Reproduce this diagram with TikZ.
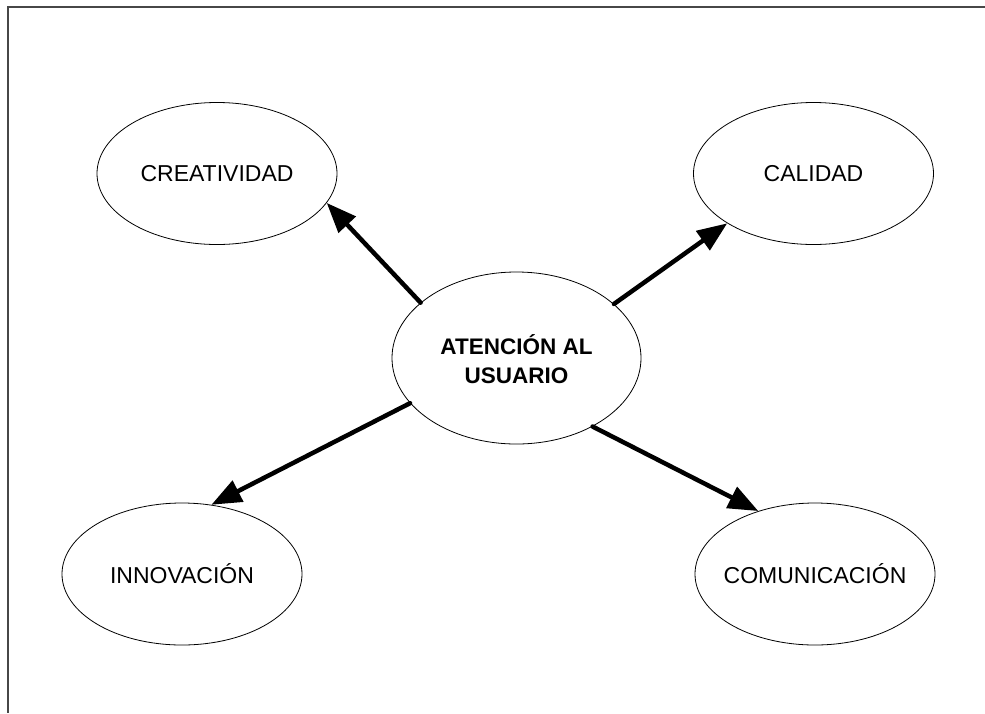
\documentclass[tikz,border=0pt]{standalone}
\usepackage{fontspec}
\setmainfont{Liberation Sans}
\usetikzlibrary{shapes.geometric,arrows.meta}
\begin{document}
\begin{tikzpicture}[x=1pt,y=1pt,
  idea/.style={ellipse, draw=black, line width=0.8pt, inner sep=0pt,
    minimum width=240pt, minimum height=142pt,
    font=\fontsize{23}{29}\selectfont},
  hub/.style={idea, minimum width=249pt, minimum height=172pt,
    font=\fontsize{22.5}{29}\selectfont\bfseries},
  link/.style={line width=4.5pt, line cap=round,
    -{Triangle[length=30pt,width=23pt]}},
  frameline/.style={draw=black!72, line width=2pt}
]
\useasboundingbox (0,0) rectangle (985,-713);
% frame: top and left edges only
\draw[frameline] (985,-7) -- (8,-7) -- (8,-713);

% central topic and the four ideas around it
\node[hub]  (hub) at (516.5,-358) {\makebox[0pt]{\raisebox{-5pt}[\height][\depth]{\begin{tabular}{@{}c@{}}ATENCIÓN AL\\USUARIO\end{tabular}}}};
\node[idea] (cre) at (217,-173.5) {\makebox[0pt]{CREATIVIDAD}};
\node[idea] (cal) at (813.5,-173.5) {\makebox[0pt]{CALIDAD}};
\node[idea] (inn) at (182,-574) {\makebox[0pt]{INNOVACIÓN}};
\node[idea] (com) at (815,-574) {\makebox[0pt]{COMUNICACIÓN}};

% arrows from the centre outwards
\draw[link] (hub.150.2) -- (cre.-15);
\draw[link] (hub.29.1)  -- (cal.210.2);
\draw[link] (hub.203.2) -- (inn.67.9);
\draw[link] (hub.318)   -- (com.132.2);
\end{tikzpicture}
\end{document}
